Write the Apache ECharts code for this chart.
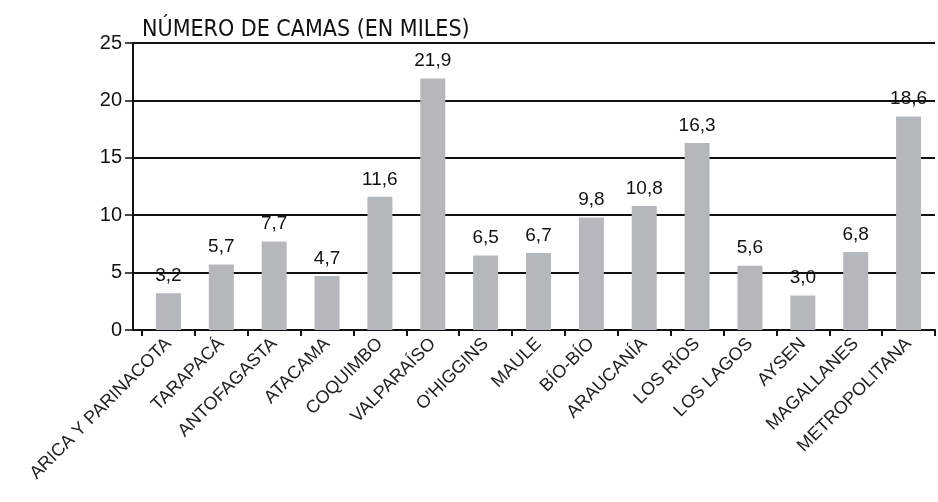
<!DOCTYPE html>
<html>
<head>
<meta charset="utf-8">
<script src="https://cdn.jsdelivr.net/npm/echarts@6/dist/echarts.min.js"></script>
<style>
  html, body { margin: 0; padding: 0; background: #fff; }
  #chart { width: 938px; height: 502px; }
</style>
</head>
<body>
<div id="chart"></div>
<script>
// regiones y número de camas (en miles)
const regiones = ['ARICA Y PARINACOTA', 'TARAPACÁ', 'ANTOFAGASTA', 'ATACAMA', 'COQUIMBO',
  'VALPARAÍSO', "O'HIGGINS", 'MAULE', 'BÍO-BÍO', 'ARAUCANÍA', 'LOS RÍOS', 'LOS LAGOS',
  'AYSEN', 'MAGALLANES', 'METROPOLITANA'];
const camas = [3.2, 5.7, 7.7, 4.7, 11.6, 21.9, 6.5, 6.7, 9.8, 10.8, 16.3, 5.6, 3.0, 6.8, 18.6];
const yTicks = [0, 5, 10, 15, 20, 25];

const condensada = '"DejaVu Sans Condensed", "Liberation Sans", sans-serif';
const normal = '"Liberation Sans", Arial, sans-serif';

const chart = echarts.init(document.getElementById('chart'), null, { renderer: 'canvas' });

// grid 0: eje Y y líneas de la grilla (empiezan en el eje)
// grid 1: barras y eje de categorías (un poco corrido a la derecha)
chart.setOption({
  animation: false,
  backgroundColor: '#fff',
  title: {
    text: 'NÚMERO DE CAMAS (EN MILES)',
    left: 137,
    top: 14,
    textStyle: { fontFamily: condensada, fontSize: 23, fontWeight: 'normal', color: '#111' }
  },
  grid: [
    { left: 133, right: 3, top: 43, bottom: 172 },
    { left: 142, right: 3, top: 43, bottom: 172 }
  ],
  xAxis: [
    { gridIndex: 0, type: 'value', show: false, min: 0, max: 1 },
    {
      gridIndex: 1,
      type: 'category',
      data: regiones,
      axisLine: { lineStyle: { color: '#111', width: 2 } },
      axisTick: { show: true, length: 6, lineStyle: { color: '#111', width: 2 } },
      axisLabel: {
        rotate: 45,
        interval: 0,
        margin: 11,
        fontFamily: normal,
        fontSize: 18,
        color: '#222'
      }
    }
  ],
  yAxis: [
    {
      gridIndex: 0,
      type: 'value',
      min: 0,
      max: 25,
      interval: 5,
      axisLine: { show: true, lineStyle: { color: '#111', width: 2 } },
      axisTick: { show: true, length: 8, lineStyle: { color: '#111', width: 1.5 } },
      axisLabel: {
        margin: 11,
        fontFamily: normal,
        fontSize: 20,
        color: '#111',
        formatter: v => (yTicks.includes(v) ? String(v) : '')
      },
      splitLine: { show: true, lineStyle: { color: '#111', width: 2 } }
    },
    { gridIndex: 1, type: 'value', min: 0, max: 25, interval: 5, show: false, splitLine: { show: false } }
  ],
  series: [{
    type: 'bar',
    xAxisIndex: 1,
    yAxisIndex: 1,
    data: camas,
    barWidth: 25,
    itemStyle: { color: '#b4b7bb' },
    label: {
      show: true,
      position: 'top',
      distance: 8,
      fontFamily: normal,
      fontSize: 19,
      color: '#111',
      formatter: p => p.value.toFixed(1).replace('.', ',')
    }
  }]
});
</script>
</body>
</html>
